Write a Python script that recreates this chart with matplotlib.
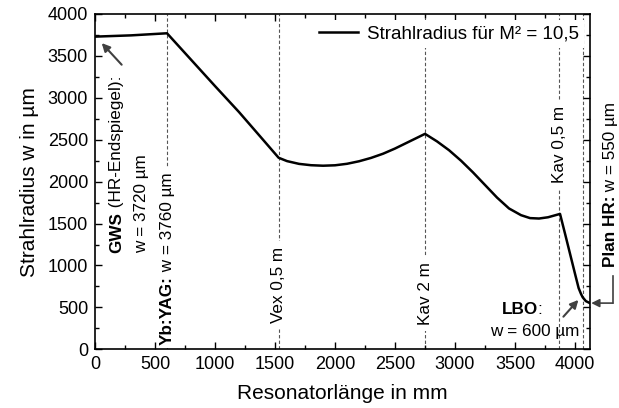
import matplotlib
matplotlib.use('Agg')
import matplotlib.pyplot as plt
from matplotlib.ticker import MultipleLocator

plt.rcParams['font.family'] = ['Liberation Sans', 'DejaVu Sans']

# Strahlradius entlang des Resonators
x_mm = [0, 300, 600, 800, 1000, 1200, 1400, 1530, 1600, 1700, 1800, 1900, 2000,
        2100, 2200, 2300, 2400, 2500, 2600, 2700, 2750, 2850, 2950, 3050, 3150,
        3250, 3350, 3450, 3550, 3625, 3700, 3775, 3875, 3920, 3960, 4000, 4030,
        4050, 4064, 4090, 4125]
w_um = [3730, 3745, 3770, 3455, 3140, 2830, 2500, 2285, 2245, 2212, 2196, 2190, 2195,
        2213, 2243, 2283, 2333, 2395, 2465, 2535, 2570, 2480, 2375, 2250, 2110,
        1960, 1810, 1680, 1600, 1565, 1560, 1575, 1615, 1360, 1130, 900, 730,
        660, 620, 575, 550]

# Lage der optischen Elemente
elem_pos = [600, 1530, 2750, 3867, 4064]
mirror_labels = ['Vex 0,5 m', 'Kav 2 m', 'Kav 0,5 m']
mirror_pos = [1530, 2750, 3867]
mirror_text_y = [770, 660, 2440]

fig = plt.figure(figsize=(6.19, 4.08), dpi=100)
ax = fig.add_axes([0.1535, 0.1439, 0.7997, 0.8218])

for xp in elem_pos:
    ax.axvline(xp, color='#555555', lw=0.8, ls=(0, (3, 2)), zorder=1)

ax.plot(x_mm, w_um, color='black', lw=1.8, label='Strahlradius für M² = 10,5', zorder=3)

ax.set_xlim(0, 4125)
ax.set_ylim(0, 4000)
ax.xaxis.set_major_locator(MultipleLocator(500))
ax.xaxis.set_minor_locator(MultipleLocator(250))
ax.yaxis.set_major_locator(MultipleLocator(500))
ax.yaxis.set_minor_locator(MultipleLocator(250))
ax.tick_params(which='both', direction='in', top=True, right=True, width=1.0)
ax.tick_params(which='major', length=5, labelsize=13, pad=5)
ax.tick_params(which='minor', length=3)
for s in ax.spines.values():
    s.set_linewidth(1.2)

ax.set_xlabel('Resonatorlänge in mm', fontsize=15, labelpad=8)
ax.set_ylabel('Strahlradius w in µm', fontsize=15, labelpad=6)

fs = 12.3
wbox = dict(boxstyle='square,pad=0.35', fc='white', ec='none')
wbox2 = dict(boxstyle='square,pad=0.15', fc='white', ec='none')

for lab, xp, yp in zip(mirror_labels, mirror_pos, mirror_text_y):
    ax.text(xp, yp, lab, rotation=90, ha='center', va='center', fontsize=fs,
            bbox=wbox, zorder=2)

# GWS
t_gws = ax.text(181, 1150, 'GWS', rotation=90, ha='center', va='bottom', fontsize=fs,
                fontweight='bold')
ax.annotate(' (HR-Endspiegel):', xy=(0.5, 1), xycoords=t_gws, rotation=90, ha='center',
            va='bottom', fontsize=fs)
ax.text(389, 1150, 'w = 3720 µm', rotation=90, ha='center', va='bottom', fontsize=fs)
ax.annotate('', xy=(56, 3653), xytext=(222, 3395),
            arrowprops=dict(arrowstyle='-|>', color='#404040', lw=1.5,
                            mutation_scale=12, shrinkA=0, shrinkB=0))

# Yb:YAG
t_yb = ax.text(600, 50, 'Yb:YAG:', rotation=90, ha='center', va='bottom', fontsize=fs,
               fontweight='bold', bbox=wbox2, zorder=2.5)
ax.annotate(' w = 3760 µm', xy=(0.5, 1), xycoords=t_yb, rotation=90, ha='center',
            va='bottom', fontsize=fs, bbox=wbox, zorder=2)

# LBO
t_lbo = ax.text(3690, 470, 'LBO', ha='right', va='center', fontsize=fs, fontweight='bold')
ax.annotate(':', xy=(1, 0), xycoords=t_lbo, ha='left', va='bottom', fontsize=fs)
ax.text(3667, 210, 'w = 600 µm', ha='center', va='center', fontsize=fs)
ax.annotate('', xy=(4028, 589), xytext=(3903, 389),
            arrowprops=dict(arrowstyle='-|>', color='#404040', lw=1.5,
                            mutation_scale=12, shrinkA=0, shrinkB=0))

# Plan HR
t_hr = ax.text(4295, 980, 'Plan HR:', rotation=90, ha='center', va='bottom', fontsize=fs,
               fontweight='bold', clip_on=False)
ax.annotate(' w = 550 µm', xy=(0.5, 1), xycoords=t_hr, rotation=90, ha='center',
            va='bottom', fontsize=fs, annotation_clip=False)
ax.plot([4315, 4315], [880, 551], color='#404040', lw=1.2, clip_on=False)
ax.annotate('', xy=(4135, 551), xytext=(4315, 551), annotation_clip=False,
            arrowprops=dict(arrowstyle='-|>', color='#404040', lw=1.2,
                            mutation_scale=12, shrinkA=0, shrinkB=0))

leg = ax.legend(loc='upper right', fontsize=13.5, frameon=True, fancybox=False,
                handlelength=2.1, handletextpad=0.45, borderaxespad=0.3, borderpad=0.3)
leg.get_frame().set_facecolor('white')
leg.get_frame().set_edgecolor('none')
leg.get_frame().set_alpha(1)
leg.set_zorder(5)

fig.savefig('out.png', dpi=100)
